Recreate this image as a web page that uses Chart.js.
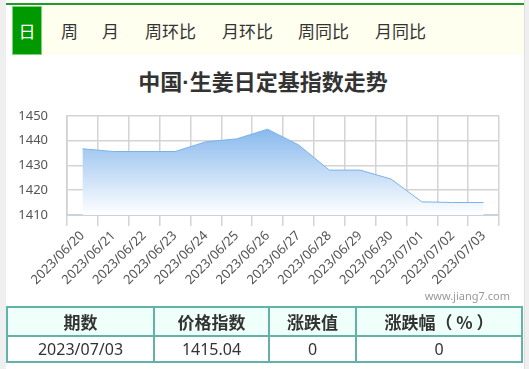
<!DOCTYPE html>
<html>
<head>
<meta charset="utf-8">
<script src="https://cdn.jsdelivr.net/npm/chart.js@4"></script>
<style>
  html, body { margin: 0; padding: 0; }
  body { width: 529px; height: 369px; position: relative; background: #fff; overflow: hidden;
         font-family: "Noto Sans", "Noto Sans CJK SC", sans-serif; }
  .abs { position: absolute; }
  #lstrip { left: 0; top: 0; width: 6px; height: 369px; background: #efefef; }
  #rstrip { left: 524px; top: 0; width: 5px; height: 369px; background: #efefef; border-left: 1px solid #e0e0e0; box-sizing: border-box; }
  #gline { left: 6px; top: 3px; width: 518px; height: 2px; background: #1f9d1f; }
  #tabbar { left: 12px; top: 6px; width: 512px; height: 49px; background: #fffff0; }
  #tabsel { left: 12px; top: 6px; width: 30px; height: 49px; background: #009a00; box-sizing: border-box;
            border: 1px solid #7fd07f; color: #fff; font-size: 17px; line-height: 47px; text-align: center;
            font-family: "Noto Sans CJK SC", sans-serif; }
  .tab { top: 6px; height: 49px; line-height: 49px; font-size: 17px; color: #333; font-family: "Noto Sans CJK SC", sans-serif; }
  #title { left: 0; width: 526px; top: 63px; text-align: center; font-size: 22px; font-weight: bold; color: #333;
           font-family: "Noto Sans CJK SC", sans-serif; line-height: 34px; }
  #title .dot { font-family: "Liberation Sans", sans-serif; }
  #wm { left: 400px; width: 110px; top: 288px; text-align: right; font-size: 11px; color: #999; line-height: 16px; }
  #cwrap { left: 0; top: 89px; width: 529px; height: 216px; }
  table { position: absolute; left: 6px; top: 306px; width: 517px; border-collapse: collapse; }
  td, th { border: 2px solid #62b2a8; text-align: center; color: #333; padding: 0; }
  th { height: 27px; background: #effffa; font-size: 17px; font-weight: bold; font-family: "Noto Sans CJK SC", sans-serif; }
  td { height: 24px; font-size: 16px; font-family: "Noto Sans", sans-serif; }
</style>
</head>
<body>
<div class="abs" id="lstrip"></div>
<div class="abs" id="rstrip"></div>
<div class="abs" id="gline"></div>
<div class="abs" id="tabbar"></div>
<div class="abs" id="tabsel">日</div>
<div class="abs tab" style="left:61px">周</div>
<div class="abs tab" style="left:102px">月</div>
<div class="abs tab" style="left:145px">周环比</div>
<div class="abs tab" style="left:222px">月环比</div>
<div class="abs tab" style="left:298px">周同比</div>
<div class="abs tab" style="left:375px">月同比</div>
<div class="abs" id="title">中国<span class="dot">·</span>生姜日定基指数走势</div>
<div class="abs" id="cwrap"><canvas id="c" width="529" height="216"></canvas></div>
<div class="abs" id="wm">www.jiang7.com</div>
<table>
  <tr><th style="width:145px">期数</th><th style="width:113px">价格指数</th><th style="width:85px">涨跌值</th><th>涨跌幅（ % ）</th></tr>
  <tr><td>2023/07/03</td><td>1415.04</td><td>0</td><td>0</td></tr>
</table>
<script>
const categories = ["2023/06/20","2023/06/21","2023/06/22","2023/06/23","2023/06/24","2023/06/25","2023/06/26",
                    "2023/06/27","2023/06/28","2023/06/29","2023/06/30","2023/07/01","2023/07/02","2023/07/03"];
const indexValues = [1436.7, 1435.6, 1435.6, 1435.6, 1439.5, 1440.7, 1444.6,
                     1438.3, 1428.1, 1428.1, 1424.5, 1415.3, 1415.04, 1415.04];
const yTicks = [1410, 1420, 1430, 1440, 1450];

const ctx = document.getElementById('c');
const chart = new Chart(ctx, {
  type: 'line',
  data: {
    labels: categories,
    datasets: [{
      data: indexValues,
      borderColor: '#7cb2ea',
      borderWidth: 1,
      pointRadius: 0,
      tension: 0,
      fill: 'start',
      backgroundColor: (context) => {
        const ch = context.chart;
        const area = ch.chartArea;
        if (!area) return 'rgba(124,178,234,0.6)';
        const g = ch.ctx.createLinearGradient(0, area.top, 0, area.bottom);
        g.addColorStop(0, 'rgba(118,174,234,1)');
        g.addColorStop(1, 'rgba(255,255,255,1)');
        return g;
      }
    }]
  },
  options: {
    responsive: false,
    animation: false,
    layout: { padding: { left: 0, right: 30, top: 16, bottom: 0 } },
    plugins: { legend: { display: false }, tooltip: { enabled: false }, title: { display: false } },
    scales: {
      x: {
        type: 'category',
        offset: true,
        grid: { offset: true, color: '#d4d4d4', lineWidth: 1.5, tickLength: 11, drawTicks: true },
        border: { color: '#c6d4e2', width: 2 },
        ticks: { minRotation: 45, maxRotation: 45, autoSkip: false, color: '#555',
                 font: { family: 'Noto Sans', size: 13 }, padding: 2 },
        afterFit: (s) => { s.height = 90; }
      },
      y: {
        min: 1410, max: 1450,
        afterBuildTicks: (s) => { s.ticks = yTicks.map(v => ({ value: v })); },
        grid: { color: '#d4d4d4', lineWidth: 1.5, drawTicks: false },
        border: { color: '#d0d0d0', width: 1.5 },
        ticks: { color: '#555', font: { family: 'Noto Sans', size: 13 }, padding: 19,
                 callback: (v) => String(v) },
        afterFit: (s) => { s.width = 67; }
      }
    }
  }
});
</script>
</body>
</html>
